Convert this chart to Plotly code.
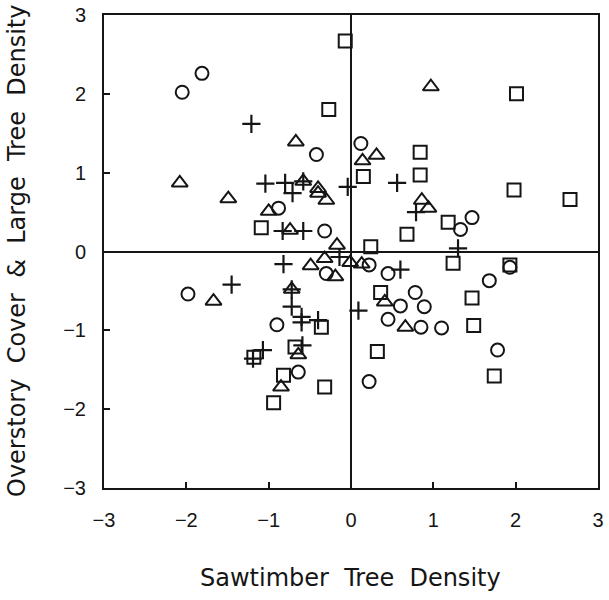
import plotly.graph_objects as go

# Circles
circ_x = [-2.05, -1.81, -0.42, -0.88, -0.32, 0.12, 1.47, 1.33, -1.98, -0.90, -0.64, -0.30,
          0.22, 0.45, 1.68, 1.93, 0.78, 0.60, 0.89, 0.45, 0.85, 1.10, 1.78, 0.22]
circ_y = [2.02, 2.26, 1.23, 0.55, 0.26, 1.37, 0.43, 0.28, -0.54, -0.93, -1.53, -0.28,
          -0.17, -0.28, -0.37, -0.20, -0.52, -0.69, -0.70, -0.86, -0.96, -0.97, -1.25, -1.65]

# Squares
sq_x = [-0.07, 2.01, -0.27, 0.15, 0.84, 0.84, 1.98, 2.66, 1.18, 0.68, 0.24, -1.09, 1.24,
        1.93, 0.36, 1.47, 1.49, 1.74, 0.32, -0.36, -0.68, -1.18, -0.82, -0.32, -0.94]
sq_y = [2.67, 2.00, 1.80, 0.95, 1.26, 0.97, 0.78, 0.66, 0.37, 0.22, 0.06, 0.30, -0.15,
        -0.17, -0.52, -0.59, -0.94, -1.58, -1.27, -0.96, -1.21, -1.34, -1.57, -1.72, -1.92]

# Triangles
tri_x = [0.97, 0.14, 0.31, 0.86, 0.94, -0.67, -2.08, -1.49, -0.58, -0.40, -0.40, -0.30,
         -1.00, -0.74, -0.17, -0.49, -0.32, -0.19, -0.01, 0.13, -0.72, -1.67, 0.41, 0.66,
         -0.64, -0.85]
tri_y = [2.09, 1.15, 1.22, 0.65, 0.55, 1.39, 0.87, 0.67, 0.89, 0.80, 0.74, 0.65,
         0.51, 0.27, 0.08, -0.18, -0.09, -0.32, -0.14, -0.16, -0.48, -0.63, -0.64, -0.96,
         -1.31, -1.72]

# Plus signs
plus_x = [-1.21, -1.04, -0.80, -0.71, -0.58, -0.04, 0.56, 0.79, -0.83, -0.58, -0.82, -0.14,
          1.30, 0.60, -1.45, -0.72, -0.72, -0.60, -0.60, -0.40, 0.09, -0.59, -1.07, -1.19]
plus_y = [1.62, 0.86, 0.87, 0.74, 0.89, 0.82, 0.87, 0.50, 0.26, 0.26, -0.16, -0.07,
          0.04, -0.23, -0.42, -0.48, -0.70, -0.83, -0.90, -0.87, -0.75, -1.19, -1.25, -1.36]

tick_vals = [-3, -2, -1, 0, 1, 2, 3]
x_title = "Sawtimber  Tree  Density"
y_title = "Overstory  Cover  &  Large  Tree  Density"

INK = "#151515"
TICK_FONT = "Liberation Sans, Arial, sans-serif"
TITLE_FONT = "DejaVu Sans, Arial, sans-serif"

fig = go.Figure()
fig.add_trace(go.Scatter(x=circ_x, y=circ_y, mode="markers",
                         marker=dict(symbol="circle-open", size=13, color=INK, line=dict(width=2, color=INK))))
fig.add_trace(go.Scatter(x=sq_x, y=sq_y, mode="markers",
                         marker=dict(symbol="square-open", size=13, color=INK, line=dict(width=2, color=INK))))
fig.add_trace(go.Scatter(x=tri_x, y=tri_y, mode="markers",
                         marker=dict(symbol="triangle-up-open", size=14, color=INK, line=dict(width=2, color=INK))))
fig.add_trace(go.Scatter(x=plus_x, y=plus_y, mode="markers",
                         marker=dict(symbol="cross-thin-open", size=13, color=INK, line=dict(width=2.2, color=INK))))

axis_common = dict(range=[-3, 3], tickvals=tick_vals, ticks="inside", ticklen=6, tickwidth=1.5,
                   tickcolor=INK, showline=True, linecolor=INK, linewidth=2, mirror=True,
                   showgrid=False, zeroline=True, zerolinecolor=INK, zerolinewidth=2,
                   automargin=False,
                   tickfont=dict(family=TICK_FONT, size=20, color=INK))

fig.update_layout(
    width=609, height=600,
    margin=dict(l=104, r=11, t=15, b=112),
    paper_bgcolor="white", plot_bgcolor="white",
    showlegend=False,
    xaxis=dict(axis_common, ticklabelstandoff=13),
    yaxis=dict(axis_common, ticklabelstandoff=12),
    annotations=[
        dict(text=x_title.replace(" ", "\u00a0"), xref="paper", yref="paper", x=(350 - 104) / 494,
             y=-(578 - 488) / 473, xanchor="center", yanchor="middle", showarrow=False,
             font=dict(family=TITLE_FONT, size=24, color=INK)),
        dict(text=y_title.replace(" ", "\u00a0"), xref="paper", yref="paper", x=-(104 - 17) / 494,
             y=(488 - 251) / 473, xanchor="center", yanchor="middle", textangle=-90, showarrow=False,
             font=dict(family=TITLE_FONT, size=24, color=INK)),
    ],
)

fig.write_html("out.html", config={"displayModeBar": False},
               post_script="document.body.style.margin='0';")
